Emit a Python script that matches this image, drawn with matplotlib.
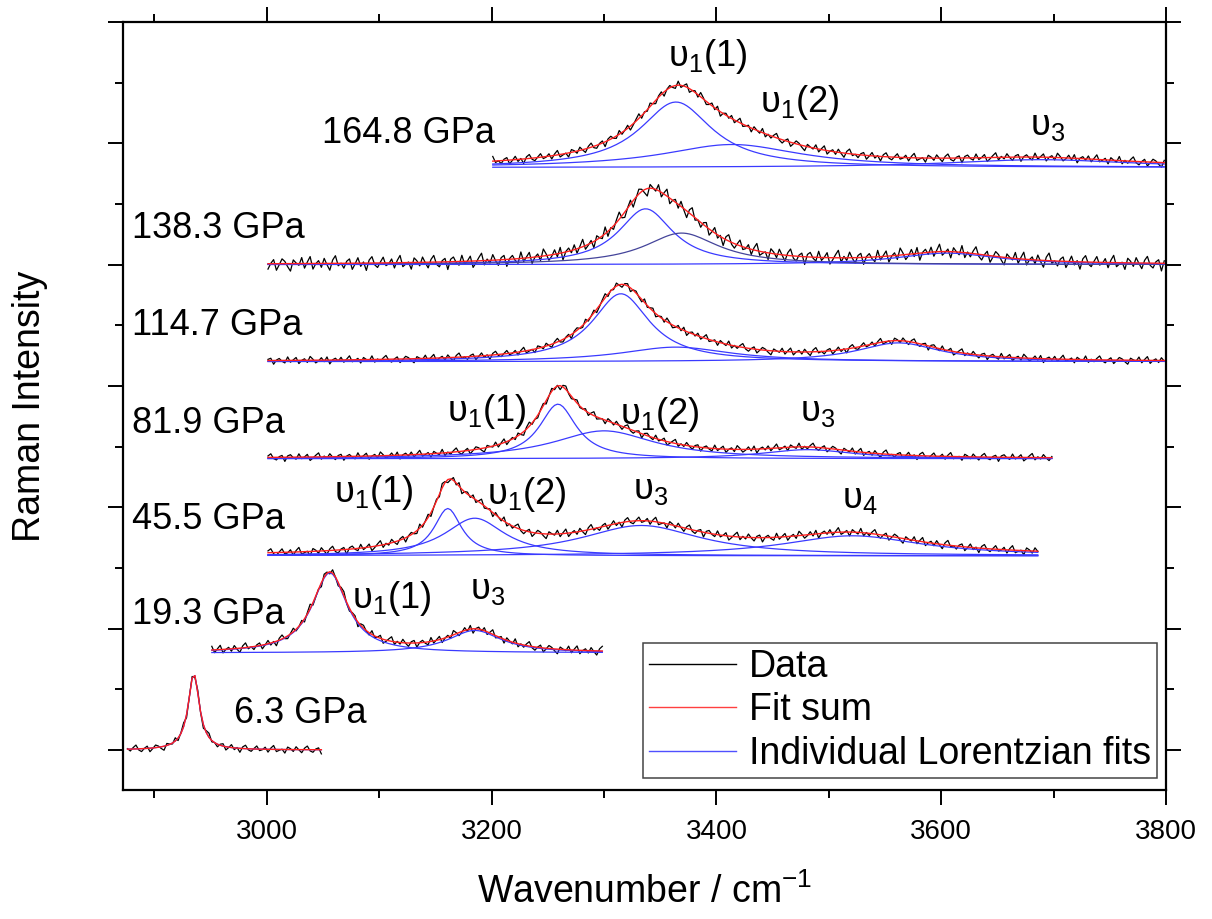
import numpy as np
import matplotlib
matplotlib.use("Agg")
import matplotlib.pyplot as plt
from matplotlib.lines import Line2D

# ---------------- data ----------------
pressures = ["6.3 GPa", "19.3 GPa", "45.5 GPa", "81.9 GPa", "114.7 GPa", "138.3 GPa", "164.8 GPa"]
offsets = [0.0, 0.8, 1.6, 2.4, 3.2, 4.0, 4.8]
x_start = [2876, 2951, 3001, 3001, 3001, 3001, 3201]
x_end = [3049, 3300, 3686, 3700, 3800, 3800, 3800]

# Lorentzian components per spectrum: centre (cm-1), height, FWHM (cm-1)
peak_centers = [
    [2935],
    [3056, 3185],
    [3161, 3185, 3333, 3521],
    [3259, 3300, 3481],
    [3315, 3364, 3562],
    [3337, 3369, 3605],
    [3364, 3414, 3688],
]
peak_heights = [
    [0.63],
    [0.66, 0.185],
    [0.39, 0.31, 0.25, 0.165],
    [0.45, 0.23, 0.075],
    [0.56, 0.12, 0.155],
    [0.46, 0.26, 0.095],
    [0.54, 0.19, 0.065],
]
peak_fwhm = [
    [12],
    [38, 58],
    [30, 65, 130, 150],
    [40, 110, 100],
    [62, 120, 90],
    [59, 80, 110],
    [78, 150, 200],
]
peak_colors = [
    ["#3a3aff"],
    ["#3a3aff", "#3a3aff"],
    ["#3a3aff"] * 4,
    ["#3a3aff"] * 3,
    ["#3a3aff"] * 3,
    ["#3a3aff", "#44449a", "#3a3aff"],
    ["#3a3aff"] * 3,
]

# scatter of the measured data around the fit (hand-read residual pattern)
noise_amp = [0.035, 0.04, 0.04, 0.035, 0.035, 0.065, 0.04]
noise_shift = [0, 17, 41, 63, 88, 5, 29]
residuals = [0.12, -0.45, 0.33, 0.91, -0.27, -0.68, 0.05, 0.52, -0.83, -0.14, 0.61, 0.28, -0.39,
             -0.95, 0.47, 0.08, -0.22, 0.76, -0.58, 0.19, 0.88, -0.71, -0.03, 0.36, -0.49, 0.64,
             -0.17, -0.86, 0.42, 0.97, -0.31, 0.02, -0.62, 0.25, 0.55, -0.78, -0.09, 0.69, -0.41,
             0.15, -0.93, 0.38, 0.81, -0.24, -0.57, 0.11, 0.73, -0.35, -0.12, 0.49, -0.66, 0.29,
             0.92, -0.51, -0.19, 0.07, -0.84, 0.58, 0.21, -0.44, 0.67, -0.06, -0.72, 0.34, 0.85,
             -0.29, -0.61, 0.16, 0.44, -0.98, 0.31, 0.59, -0.13, -0.47, 0.78, -0.37, 0.04, 0.63,
             -0.81, -0.26, 0.39, 0.95, -0.54, 0.18, -0.33, 0.71, -0.08, -0.69, 0.27, 0.53, -0.88,
             0.09, 0.46, -0.21, -0.59, 0.82, -0.43, 0.13, 0.67, -0.76, -0.02, 0.35, -0.52, 0.89,
             0.22, -0.64, -0.18, 0.57, -0.37, 0.74, -0.91, 0.06, 0.41, -0.28, 0.62, -0.55, 0.17,
             0.94, -0.46, -0.11, 0.32, -0.79, 0.51, 0.03, -0.34, 0.86, -0.63]

x_ticks = [3000, 3200, 3400, 3600, 3800]
x_label = "Wavenumber / cm$^{-1}$"
y_label = "Raman Intensity"
legend_labels = ["Data", "Fit sum", "Individual Lorentzian fits"]

# ---------------- style ----------------
plt.rcParams["font.family"] = ["Liberation Sans", "DejaVu Sans"]
plt.rcParams["mathtext.fontset"] = "custom"
plt.rcParams["mathtext.rm"] = "Liberation Sans"
plt.rcParams["mathtext.it"] = "Liberation Sans"
plt.rcParams["mathtext.default"] = "regular"

fig = plt.figure(figsize=(12.12, 9.19), dpi=100)
ax = fig.add_axes([0.1015, 0.1404, 0.8605, 0.8357])


def lorentz(x, c, h, w):
    g = w / 2.0
    return h / (1.0 + ((x - c) / g) ** 2)


step = 2.5
nres = len(residuals)
for k in range(len(pressures)):
    x = np.arange(x_start[k], x_end[k] + 0.01, step)
    comps = [lorentz(x, c, h, w) for c, h, w in zip(peak_centers[k], peak_heights[k], peak_fwhm[k])]
    fit = np.sum(comps, axis=0)
    res = np.array([residuals[(i + noise_shift[k]) % nres] for i in range(len(x))])
    data = fit + noise_amp[k] * res
    base = offsets[k]
    ax.plot(x, data + base, color="black", lw=0.9, zorder=2)
    for comp, col in zip(comps, peak_colors[k]):
        ax.plot(x, comp + base, color=col, lw=0.9, zorder=3)
    ax.plot(x, fit + base, color="#ff2020", lw=1.0, zorder=4)

# pressure labels
press_pos = [(2971, 0.30), (2880, 1.12), (2880, 1.90), (2880, 2.69), (2880, 3.50), (2880, 4.30), (3049, 5.08)]
for txt, (px, py) in zip(pressures, press_pos):
    ax.text(px, py, txt, fontsize=26, ha="left", va="center")

# mode labels
mode_labels = [
    ("υ$_1$(1)", 3357, 5.64), ("υ$_1$(2)", 3439, 5.26), ("υ$_3$", 3679, 5.07),
    ("υ$_1$(1)", 3160, 2.71), ("υ$_1$(2)", 3314, 2.69), ("υ$_3$", 3474, 2.71),
    ("υ$_1$(1)", 3060, 2.045), ("υ$_1$(2)", 3196, 2.03), ("υ$_3$", 3326, 2.07), ("υ$_4$", 3512, 1.99),
    ("υ$_1$(1)", 3076, 1.17), ("υ$_3$", 3181, 1.24),
]
for txt, px, py in mode_labels:
    ax.text(px, py, txt, fontsize=26, ha="left", va="baseline")

ax.set_xlim(2872, 3800)
ax.set_ylim(-0.33, 6.0)
ax.set_xticks(x_ticks)
ax.set_xticks([2900, 3100, 3300, 3500, 3700], minor=True)
ax.set_yticks(np.arange(0, 6.01, 1.0))
ax.set_yticks(np.arange(0.5, 6.0, 1.0), minor=True)
ax.set_yticklabels([])
ax.tick_params(which="both", direction="out", top=True, right=True, width=1.4)
ax.tick_params(which="major", length=11, labelsize=20, pad=10)
ax.tick_params(which="minor", length=6)
for sp in ax.spines.values():
    sp.set_linewidth(1.6)

ax.set_xlabel(x_label, fontsize=27, labelpad=20)
ax.set_ylabel(y_label, fontsize=27)
ax.yaxis.set_label_coords(-0.072, 0.5)

handles = [Line2D([], [], color="black", lw=1.0),
           Line2D([], [], color="#ff4040", lw=1.0),
           Line2D([], [], color="#5050ff", lw=1.0)]
leg = ax.legend(handles, legend_labels, loc="lower right", bbox_to_anchor=(0.9914, 0.0156),
                borderaxespad=0, fontsize=27, handlelength=2.3, handletextpad=0.35,
                labelspacing=0.2, borderpad=0.16, fancybox=False, framealpha=1)
leg.get_frame().set_edgecolor("#444444")
leg.get_frame().set_linewidth(1.1)

fig.savefig("out.png", dpi=100)
